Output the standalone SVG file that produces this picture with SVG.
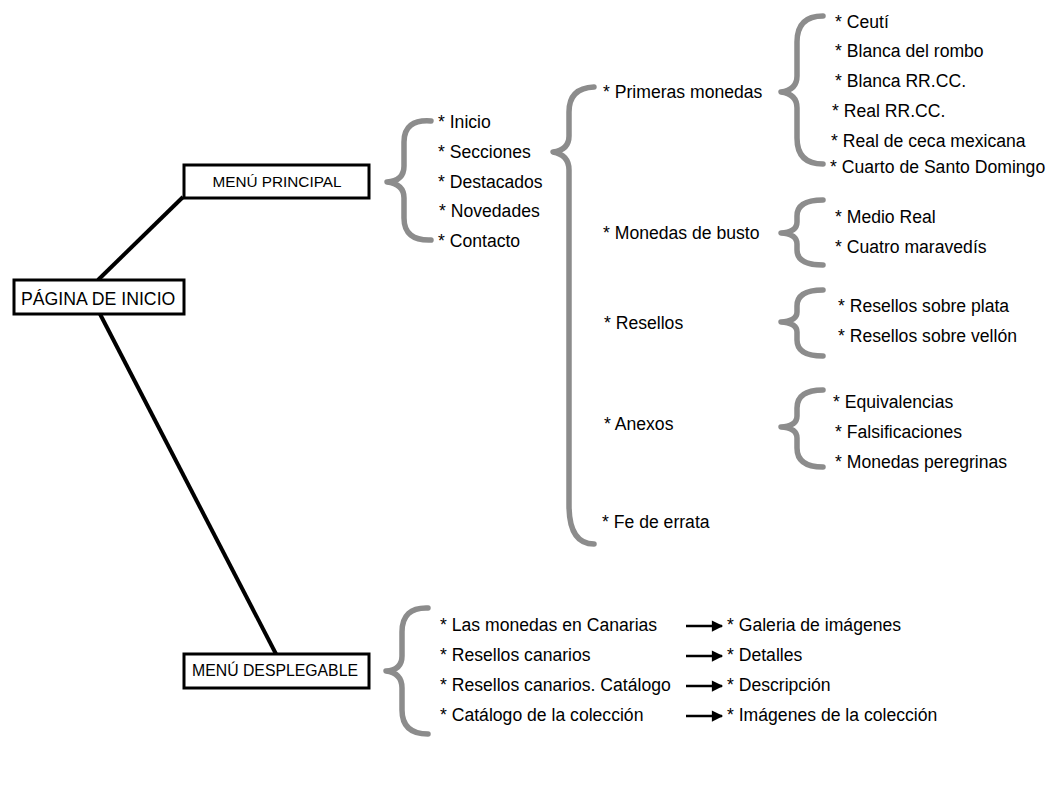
<svg xmlns="http://www.w3.org/2000/svg" width="1050" height="800" viewBox="0 0 1050 800">
<style>
.bg{fill:#ffffff}
.box{fill:#ffffff;stroke:#000;stroke-width:3}
.t{font-family:"Liberation Sans",Arial,sans-serif;font-size:17.6px;fill:#000}
.tb{font-family:"Liberation Sans",Arial,sans-serif;font-size:15.3px;fill:#000;text-anchor:middle}
.tp{font-family:"Liberation Sans",Arial,sans-serif;font-size:17.7px;fill:#000}
.conn{stroke:#000;stroke-width:4;fill:none}
.brace{fill:none;stroke:#8c8c8c;stroke-width:5.5;stroke-linecap:round;stroke-linejoin:round}
.arr{stroke:#000;stroke-width:2.5;fill:none;marker-end:url(#ah)}
</style>
<defs>
<marker id="ah" viewBox="0 0 10 10" refX="9" refY="5" markerWidth="5" markerHeight="4.5" markerUnits="strokeWidth" orient="auto">
<path d="M0,0 L10,5 L0,10 Z" fill="#000"/>
</marker>
</defs>
<rect class="bg" x="0" y="0" width="1050" height="800"/>
<g id="connectors">
<line class="conn" x1="98" y1="280" x2="183" y2="197"/>
<line class="conn" x1="100" y1="314" x2="276" y2="654"/>
<line class="arr" x1="686" y1="626" x2="722" y2="626"/>
<line class="arr" x1="686" y1="656" x2="722" y2="656"/>
<line class="arr" x1="686" y1="686" x2="722" y2="686"/>
<line class="arr" x1="686" y1="716" x2="722" y2="716"/>
</g>
<g id="pagina-inicio">
<rect class="box" x="14" y="280" width="170" height="34"/>
<text class="tp" x="21" y="305">PÁGINA DE INICIO</text>
</g>
<g id="menu-principal">
<rect class="box" x="184" y="165" width="185" height="33"/>
<text class="tb" x="277" y="187">MENÚ PRINCIPAL</text>
</g>
<g id="menu-desplegable">
<rect class="box" x="184" y="654" width="185" height="34"/>
<text class="tb" x="275" y="676" style="font-size:15.8px">MENÚ DESPLEGABLE</text>
</g>
<g id="brace-principal">
<path class="brace" d="M431 121 Q404 119 404 142 L404 166 Q404 181 387 182 Q404 184 404 198 L404 218 Q404 241 431 240"/>
<text class="t" x="438" y="128">* Inicio</text>
<text class="t" x="438" y="158">* Secciones</text>
<text class="t" x="438" y="188">* Destacados</text>
<text class="t" x="439" y="217">* Novedades</text>
<text class="t" x="438" y="247">* Contacto</text>
</g>
<g id="brace-secciones">
<path class="brace" d="M594 87 Q569 88 569 112 L569 136 Q569 150 553 152 Q569 155 569 170 L569 505 Q569 544 594 544"/>
<text class="t" x="603" y="98">* Primeras monedas</text>
<text class="t" x="603" y="239">* Monedas de busto</text>
<text class="t" x="604" y="329">* Resellos</text>
<text class="t" x="604" y="430">* Anexos</text>
<text class="t" x="602" y="528">* Fe de errata</text>
</g>
<g id="brace-primeras">
<path class="brace" d="M823 16 Q797 16 797 42 L797 76 Q797 90 781 92 Q797 94 797 108 L797 138 Q797 164 823 164"/>
<text class="t" x="835" y="28">* Ceutí</text>
<text class="t" x="835" y="57">* Blanca del rombo</text>
<text class="t" x="835" y="87">* Blanca RR.CC.</text>
<text class="t" x="832" y="117">* Real RR.CC.</text>
<text class="t" x="831" y="147">* Real de ceca mexicana</text>
<text class="t" x="830" y="173">* Cuarto de Santo Domingo</text>
</g>
<g id="brace-busto">
<path class="brace" d="M823 200 Q797 200 797 216 L797 222 Q797 232 781 233 Q797 234 797 244 L797 250 Q797 265 823 265"/>
<text class="t" x="835" y="223">* Medio Real</text>
<text class="t" x="835" y="253">* Cuatro maravedís</text>
</g>
<g id="brace-resellos">
<path class="brace" d="M823 290 Q797 290 797 306 L797 312 Q797 321 781 322 Q797 323 797 332 L797 340 Q797 356 823 356"/>
<text class="t" x="838" y="312">* Resellos sobre plata</text>
<text class="t" x="838" y="342">* Resellos sobre vellón</text>
</g>
<g id="brace-anexos">
<path class="brace" d="M823 390 Q797 390 797 408 L797 416 Q797 426 781 427 Q797 428 797 438 L797 448 Q797 467 823 467"/>
<text class="t" x="833" y="408">* Equivalencias</text>
<text class="t" x="835" y="438">* Falsificaciones</text>
<text class="t" x="835" y="468">* Monedas peregrinas</text>
</g>
<g id="brace-desplegable">
<path class="brace" d="M428 608 Q402 607 402 632 L402 656 Q402 670 386 671 Q402 673 402 688 L402 710 Q402 734 428 734"/>
<text class="t" x="440" y="631">* Las monedas en Canarias</text>
<text class="t" x="440" y="661">* Resellos canarios</text>
<text class="t" x="440" y="691">* Resellos canarios. Catálogo</text>
<text class="t" x="440" y="721">* Catálogo de la colección</text>
<text class="t" x="727" y="631">* Galeria de imágenes</text>
<text class="t" x="727" y="661">* Detalles</text>
<text class="t" x="727" y="691">* Descripción</text>
<text class="t" x="727" y="721">* Imágenes de la colección</text>
</g>
</svg>
